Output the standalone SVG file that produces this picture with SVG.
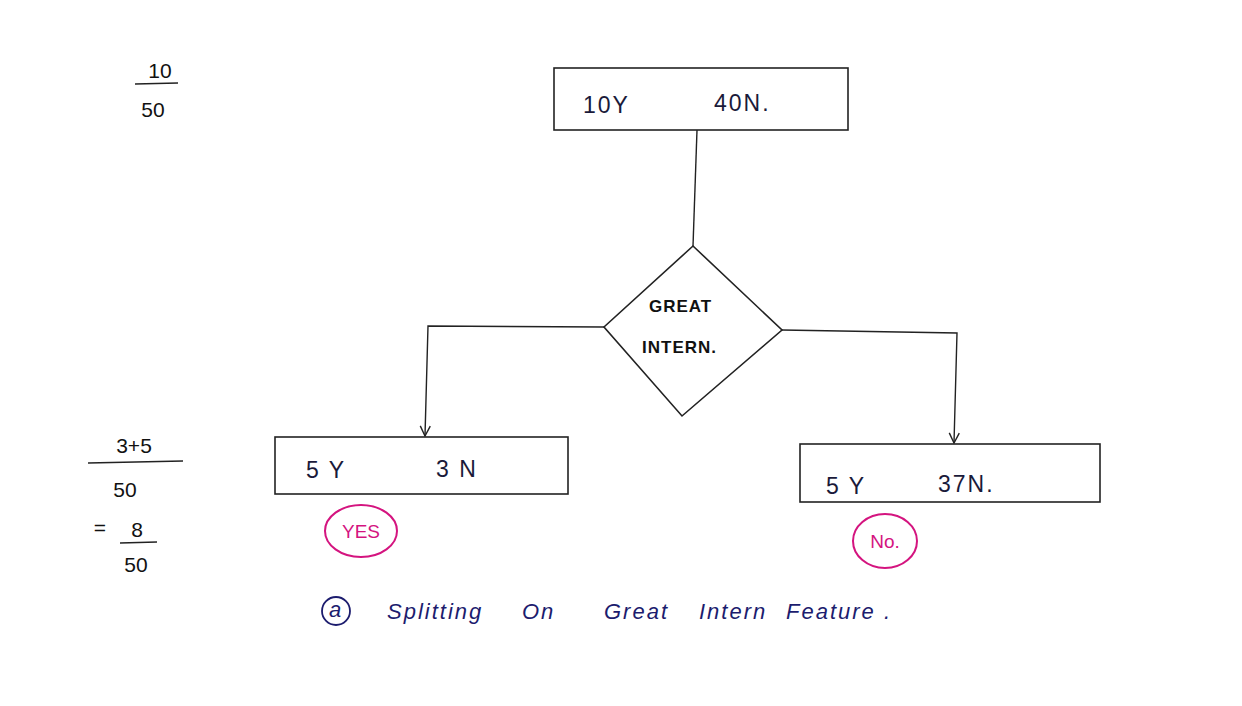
<svg xmlns="http://www.w3.org/2000/svg" width="1242" height="706" viewBox="0 0 1242 706">
<defs>
<style>
.box{fill:none;stroke:#222;stroke-width:1.6}
.ln{fill:none;stroke:#222;stroke-width:1.4}
.t{font-family:"Liberation Sans",Arial,sans-serif;fill:#1a1a3a}
.big{font-size:23px;letter-spacing:2px}
.dia{font-size:17px;font-weight:bold;fill:#111;letter-spacing:1px}
.math{font-size:21px;fill:#111}
.pink{fill:none;stroke:#d4147f;stroke-width:2}
.pt{font-family:"Liberation Sans",Arial,sans-serif;fill:#d4147f;font-size:19px}
.cap{font-family:"Liberation Sans",Arial,sans-serif;fill:#1c1c6e;font-size:22px;font-style:italic;letter-spacing:2px}
</style>
<marker id="arr" viewBox="0 0 12 12" refX="11" refY="6" markerWidth="12" markerHeight="12" markerUnits="userSpaceOnUse" orient="auto">
<path d="M1,1 L11,6 L1,11" fill="none" stroke="#222" stroke-width="1.4"/>
</marker>
</defs>
<rect width="1242" height="706" fill="#fff"/>

<g id="connectors">
<line class="ln" x1="697" y1="130" x2="693" y2="246"/>
<path class="ln" d="M604,327 L428,326 L425,436" marker-end="url(#arr)"/>
<path class="ln" d="M782,330 L957,333 L954,443" marker-end="url(#arr)"/>
</g>

<g id="root">
<rect class="box" x="554" y="68" width="294" height="62"/>
<text class="t big" x="583" y="113">10Y</text>
<text class="t big" x="714" y="111">40N.</text>
</g>

<g id="decision">
<polygon class="box" points="693,246 782,330 682,416 604,327"/>
<text class="t dia" x="649" y="312">GREAT</text>
<text class="t dia" x="642" y="353">INTERN.</text>
</g>

<g id="yes-node">
<rect class="box" x="275" y="437" width="293" height="57"/>
<text class="t big" x="306" y="478">5 Y</text>
<text class="t big" x="436" y="477">3 N</text>
</g>

<g id="no-node">
<rect class="box" x="800" y="444" width="300" height="58"/>
<text class="t big" x="826" y="494">5 Y</text>
<text class="t big" x="938" y="492">37N.</text>
</g>

<g id="yes-label">
<ellipse class="pink" cx="361" cy="531" rx="36" ry="26"/>
<text class="pt" x="361" y="538" text-anchor="middle">YES</text>
</g>

<g id="no-label">
<ellipse class="pink" cx="885" cy="541" rx="32" ry="27"/>
<text class="pt" x="885" y="548" text-anchor="middle">No.</text>
</g>

<g id="fraction-top">
<text class="t math" x="160" y="78" text-anchor="middle" font-size="16">10</text>
<line class="ln" x1="135" y1="84" x2="178" y2="83"/>
<text class="t math" x="153" y="117" text-anchor="middle">50</text>
</g>

<g id="fraction-bottom">
<text class="t math" x="134" y="453" text-anchor="middle">3+5</text>
<line class="ln" x1="88" y1="463" x2="183" y2="461"/>
<text class="t math" x="125" y="497" text-anchor="middle">50</text>
<text class="t math" x="100" y="535" text-anchor="middle">=</text>
<text class="t math" x="137" y="537" text-anchor="middle">8</text>
<line class="ln" x1="120" y1="543" x2="157" y2="542"/>
<text class="t math" x="136" y="572" text-anchor="middle">50</text>
</g>

<g id="caption">
<circle cx="336" cy="611" r="14" fill="none" stroke="#1c1c6e" stroke-width="1.8"/>
<text class="cap" x="336" y="617" text-anchor="middle" font-size="16" letter-spacing="0">a</text>
<text class="cap" x="387" y="619">Splitting</text>
<text class="cap" x="522" y="619">On</text>
<text class="cap" x="604" y="619">Great</text>
<text class="cap" x="699" y="619">Intern</text>
<text class="cap" x="786" y="619">Feature .</text>
</g>
</svg>
